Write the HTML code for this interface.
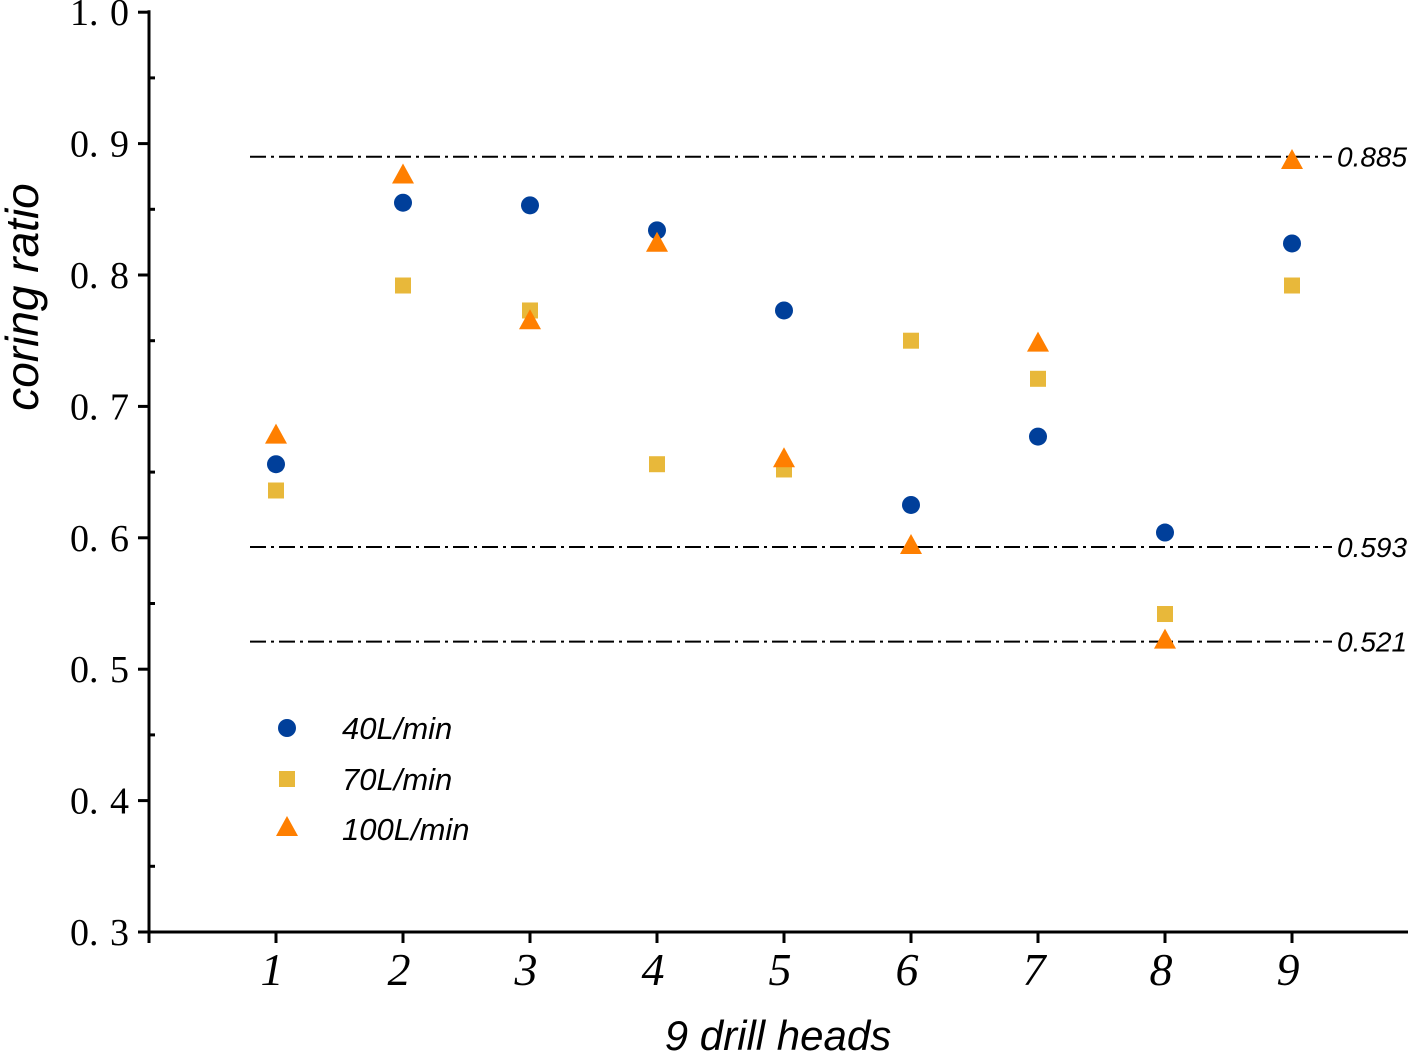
<!DOCTYPE html>
<html><head><meta charset="utf-8"><style>
body{margin:0;background:#fff}
svg{display:block}
</style></head><body>
<svg id="chart" width="1418" height="1054" viewBox="0 0 1418 1054" xmlns="http://www.w3.org/2000/svg">
<g id="axes"></g>
<g id="refs"></g>
<g id="marks"></g>
<g id="legend"></g>
<text transform="translate(38,297) rotate(-90)" text-anchor="middle" font-family="Liberation Sans, sans-serif" font-style="italic" font-size="46">coring ratio</text>
<text x="778" y="1050" text-anchor="middle" font-family="Liberation Sans, sans-serif" font-style="italic" font-size="42">9 drill heads</text>
</svg>
<script>
const categories=[1,2,3,4,5,6,7,8,9];
const s40=[0.656,0.855,0.853,0.834,0.773,0.625,0.677,0.604,0.824];
const s70=[0.636,0.792,0.773,0.656,0.652,0.750,0.721,0.542,0.792];
const s100=[0.677,0.875,0.764,0.823,0.659,0.593,0.747,0.521,0.886];
const yTicks=[0.3,0.4,0.5,0.6,0.7,0.8,0.9,1.0];
const yTickLabels=["0. 3","0. 4","0. 5","0. 6","0. 7","0. 8","0. 9","1. 0"];
const refValues=[0.89,0.593,0.521];
const refLabels=["0.885","0.593","0.521"];
const seriesNames=["40L/min","70L/min","100L/min"];

const NS="http://www.w3.org/2000/svg";
const X=v=>276+(v-1)*127;
const Y=v=>932-(v-0.3)*1314;
function mk(tag,attrs,parent,text){const e=document.createElementNS(NS,tag);for(const k in attrs)e.setAttribute(k,attrs[k]);if(text!==undefined)e.textContent=text;parent.appendChild(e);return e;}
const axes=document.getElementById('axes');
let e;
e=mk('line',{x1:149,y1:Y(1.0)-2,x2:149,y2:943,stroke:'#000','stroke-width':3},axes);


e=mk('line',{x1:138,y1:932,x2:1408,y2:932,stroke:'#000','stroke-width':3},axes);


yTicks.forEach((t,i)=>{
  e=mk('line',{x1:138,y1:Y(t),x2:149,y2:Y(t),stroke:'#000','stroke-width':3},axes);
  
  
  if(i<yTicks.length-1){
    e=mk('line',{x1:149,y1:Y(t+0.05),x2:155,y2:Y(t+0.05),stroke:'#000','stroke-width':3},axes);
    
    
  }
  e=mk('text',{x:129,y:Y(t)+13,'text-anchor':'end','font-family':'Liberation Serif, serif','font-size':38,'word-spacing':'2'},axes,yTickLabels[i]);
  
  
});
categories.forEach(c=>{
  e=mk('line',{x1:X(c),y1:932,x2:X(c),y2:943,stroke:'#000','stroke-width':3},axes);
  
  
  e=mk('text',{x:X(c)-4,y:985,'text-anchor':'middle','font-family':'Liberation Serif, serif','font-style':'italic','font-size':46},axes,String(c));
  
  
});
const refs=document.getElementById('refs');
refValues.forEach((v,i)=>{
  e=mk('line',{x1:250,y1:Y(v),x2:1332,y2:Y(v),stroke:'#000','stroke-width':2,'stroke-dasharray':'16 5 3 5'},refs);
  
  
  e=mk('text',{x:1337,y:Y(v)+10,'font-family':'Liberation Sans, sans-serif','font-style':'italic','font-size':28},refs,refLabels[i]);
  
  
});
const marks=document.getElementById('marks');
function circle(x,y,g){return mk('circle',{cx:x,cy:y,r:9,fill:'#003f9a'},g);}
function square(x,y,g){return mk('rect',{x:x-8,y:y-8,width:16,height:16,fill:'#e8b83a'},g);}
function tri(x,y,g){return mk('polygon',{points:`${x},${y-13} ${x-11},${y+7} ${x+11},${y+7}`,fill:'#ff7f00'},g);}
categories.forEach((c,i)=>{
  e=square(X(c),Y(s70[i]),marks);
  
  
  e=circle(X(c),Y(s40[i]),marks);
  
  
  e=tri(X(c),Y(s100[i]),marks);
  
  
});
const legend=document.getElementById('legend');
const ly=[728,779,829];
const makers=[circle,square,tri];
seriesNames.forEach((n,i)=>{
  e=makers[i](287,ly[i],legend);
  
  
  e=mk('text',{x:342,y:ly[i]+11,'font-family':'Liberation Sans, sans-serif','font-style':'italic','font-size':31},legend,n);
  
  
});
</script>
</body></html>
